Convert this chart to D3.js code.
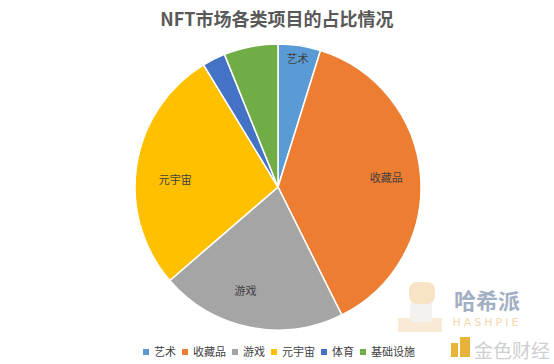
<!DOCTYPE html>
<html><head><meta charset="utf-8">
<script src="https://cdn.jsdelivr.net/npm/d3@7/dist/d3.min.js"></script>
<style>body{margin:0;background:#fff;}svg{display:block;font-family:"Noto Sans CJK SC","Microsoft YaHei",sans-serif;}</style>
</head><body>
<script>
const categories = ["艺术","收藏品","游戏","元宇宙","体育","基础设施"];
const values = [4.8, 37.8, 21.0, 27.6, 2.6, 6.1];
const colors = ["#5B9BD5","#ED7D31","#A5A5A5","#FFC000","#4472C4","#70AD47"];
const showLabel = [true, true, true, true, false, false];
const title = "NFT市场各类项目的占比情况";

const W = 554, H = 364;
const svg = d3.select("body").append("svg").attr("width", W).attr("height", H);

const cx = 278, cy = 187, R = 143;
const data = categories.map((c,i)=>({name:c, value:values[i], color:colors[i], label:showLabel[i]}));
const pie = d3.pie().value(d=>d.value).sort(null);
const arc = d3.arc().innerRadius(0).outerRadius(R);

// watermark (behind pie)
const wm = svg.append("g");
wm.append("rect").attr("x",398).attr("y",318).attr("width",44).attr("height",14).attr("fill","#f9ead5");
wm.append("rect").attr("x",410).attr("y",302).attr("width",22).attr("height",20).attr("rx",3).attr("fill","#f4f1ee");
wm.append("rect").attr("x",409).attr("y",282).attr("width",26).attr("height",22).attr("rx",8).attr("fill","#f8e3c4");
wm.append("text").attr("x", 487).attr("y", 309).attr("text-anchor","middle")
  .attr("font-size", 22).attr("font-weight","bold").attr("fill","#a3afc3").text("哈希派");
wm.append("text").attr("x", 487).attr("y", 326).attr("text-anchor","middle")
  .attr("font-size", 11).attr("letter-spacing", 3).attr("fill","#f3d7ad").attr("font-family","DejaVu Sans").text("HASHPIE");
wm.append("rect").attr("x",451).attr("y",343).attr("width",7).attr("height",14).attr("fill","#e8b33a");
wm.append("rect").attr("x",460).attr("y",337).attr("width",10).attr("height",20).attr("fill","#e8b33a");
wm.append("text").attr("x", 512).attr("y", 358).attr("text-anchor","middle")
  .attr("font-size", 19).attr("fill","#cfcfcf").text("金色财经");

const g = svg.append("g").attr("transform", `translate(${cx},${cy})`);
const arcs = pie(data);
g.selectAll("path").data(arcs).join("path")
  .attr("d", arc).attr("fill", d=>d.data.color)
  .attr("stroke","#fff").attr("stroke-width",1.5);

// label placement: radius fraction and angle shift (degrees) from slice middle
const labelPlace = {"艺术":[0.905,0],"收藏品":[0.76,0],"游戏":[0.76,6],"元宇宙":[0.72,-5]};
g.selectAll("text.lbl").data(arcs.filter(d=>d.data.label)).join("text")
  .attr("class","lbl")
  .attr("transform", d=>{
    const p = labelPlace[d.data.name];
    const r = R*p[0];
    const a = (d.startAngle+d.endAngle)/2 + p[1]*Math.PI/180;
    return `translate(${Math.sin(a)*r},${-Math.cos(a)*r})`;
  })
  .attr("text-anchor","middle").attr("dy","0.35em")
  .attr("font-size",11).attr("fill","#404040")
  .text(d=>d.data.name);

// title
svg.append("text").attr("x", 277).attr("y", 26).attr("text-anchor","middle")
  .attr("font-size", 18).attr("font-weight","bold").attr("fill","#595959").text(title);

// legend
const legend = svg.append("g").attr("transform","translate(143,352)");
let x = 0;
data.forEach(d=>{
  const it = legend.append("g").attr("transform",`translate(${x},0)`);
  it.append("rect").attr("x",0).attr("y",-3).attr("width",6).attr("height",6).attr("fill",d.color);
  const t = it.append("text").attr("x",11).attr("y",0).attr("dy","0.35em")
    .attr("font-size",11).attr("fill","#404040").text(d.name);
  x += 11 + t.node().getComputedTextLength() + 6;
});
</script>
</body></html>
